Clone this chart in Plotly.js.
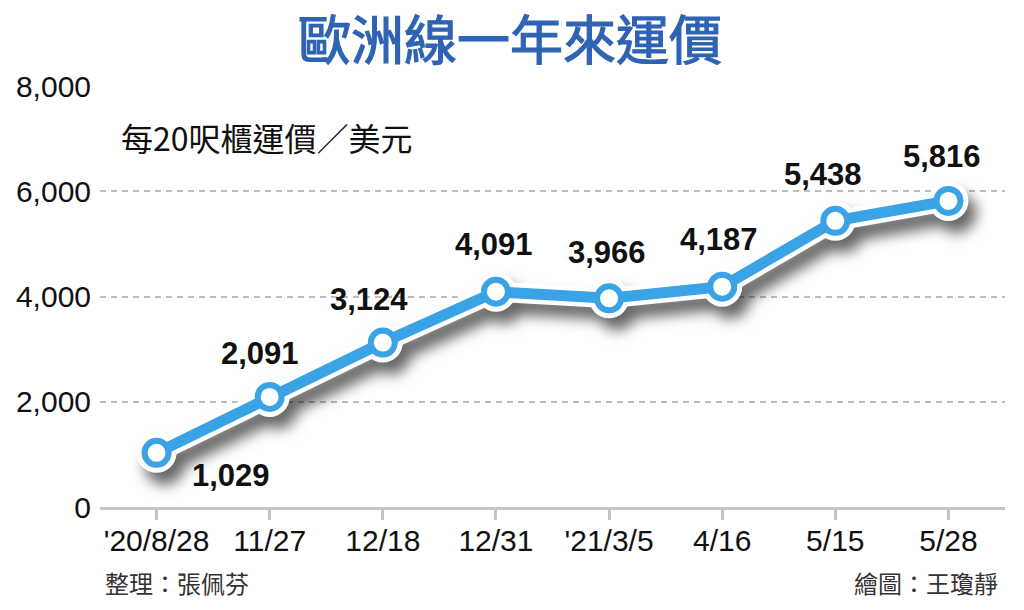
<!DOCTYPE html>
<html>
<head>
<meta charset="utf-8">
<script src="https://cdn.plot.ly/plotly-3.0.1.min.js"></script>
<style>
html,body{margin:0;padding:0;background:#fff;}
#chart{width:1024px;height:610px;}
#chart .scatterlayer .trace:first-child{filter:drop-shadow(8px 12px 7px rgba(0,0,0,0.6));}
#chart .gtitle{stroke:#2f63b3;stroke-width:1.2px;}
</style>
</head>
<body>
<div id="chart"></div>
<script>
// ---- data ----
const categories = ["'20/8/28", "11/27", "12/18", "12/31", "'21/3/5", "4/16", "5/15", "5/28"];
const values = [1029, 2091, 3124, 4091, 3966, 4187, 5438, 5816];
const yTickVals = [0, 2000, 4000, 6000, 8000];
const yTickText = ["0", "2,000", "4,000", "6,000", "8,000"];
const titleText = "歐洲線一年來運價";
const unitText = "每20呎櫃運價／美元";
const creditLeft = "整理：張佩芬";
const creditRight = "繪圖：王瓊靜";

// ---- styles ----
const blue = "#3aa3e6";
const numFont = "Liberation Sans, Arial, sans-serif";
const cjkFont = "Noto Sans CJK TC, sans-serif";
const labelShiftX = [74, -10, -14, -2, -2, -3, -12, -6];
const labelShiftY = [-23, 43, 43, 47, 46, 47, 46, 44];

const fmt = v => v.toLocaleString("en-US");

const halo = {
  x: categories, y: values, type: "scatter", mode: "lines+markers",
  line: {color: "#ffffff", width: 20},
  marker: {size: 40, color: "#ffffff"},
  hoverinfo: "skip", showlegend: false, cliponaxis: false
};
const main = {
  x: categories, y: values, type: "scatter", mode: "lines+markers",
  line: {color: blue, width: 11},
  marker: {size: 24, color: "#ffffff", line: {color: blue, width: 6}},
  showlegend: false, cliponaxis: false
};

const annotations = values.map((v, i) => ({
  x: categories[i], y: v, xref: "x", yref: "y",
  text: fmt(v), showarrow: false,
  xshift: labelShiftX[i], yshift: labelShiftY[i],
  font: {family: numFont, size: 31, color: "#111", weight: "bold"}
}));
annotations.push({
  xref: "paper", yref: "paper", x: 0.021, y: 0.879, xanchor: "left", yanchor: "middle",
  text: unitText, showarrow: false,
  font: {family: cjkFont, size: 32, color: "#111"}
});
annotations.push({
  xref: "paper", yref: "paper", x: 0.003, y: -0.18, xanchor: "left", yanchor: "middle",
  text: creditLeft, showarrow: false,
  font: {family: cjkFont, size: 24, color: "#333"}
});
annotations.push({
  xref: "paper", yref: "paper", x: 0.9945, y: -0.18, xanchor: "right", yanchor: "middle",
  text: creditRight, showarrow: false,
  font: {family: cjkFont, size: 24, color: "#333"}
});

const layout = {
  width: 1024, height: 610,
  margin: {l: 100, r: 19, t: 86, b: 103},
  paper_bgcolor: "#ffffff", plot_bgcolor: "#ffffff",
  title: {
    text: titleText, x: 0.498, xanchor: "center", xref: "container",
    y: 0.932, yanchor: "middle", yref: "container",
    font: {family: cjkFont, size: 53, color: "#2f63b3", weight: "normal"}
  },
  xaxis: {
    type: "category", range: [-0.5, 7.5], fixedrange: true,
    showgrid: false, zeroline: false,
    showline: true, linecolor: "#c4c4c4", linewidth: 3,
    ticks: "outside", ticklen: 10, tickwidth: 3, tickcolor: "#c4c4c4",
    ticklabelstandoff: -5,
    tickfont: {family: numFont, size: 30, color: "#111"}
  },
  yaxis: {
    range: [0, 8000], fixedrange: true,
    tickvals: yTickVals, ticktext: yTickText,
    showgrid: true, gridcolor: "#bdbdbd", gridwidth: 2, griddash: "6px,5px",
    zeroline: false, showline: false, ticks: "", ticklabelstandoff: 8,
    tickfont: {family: numFont, size: 30, color: "#111"}
  },
  annotations: annotations
};

Plotly.newPlot("chart", [halo, main], layout, {staticPlot: true});
</script>
</body>
</html>
